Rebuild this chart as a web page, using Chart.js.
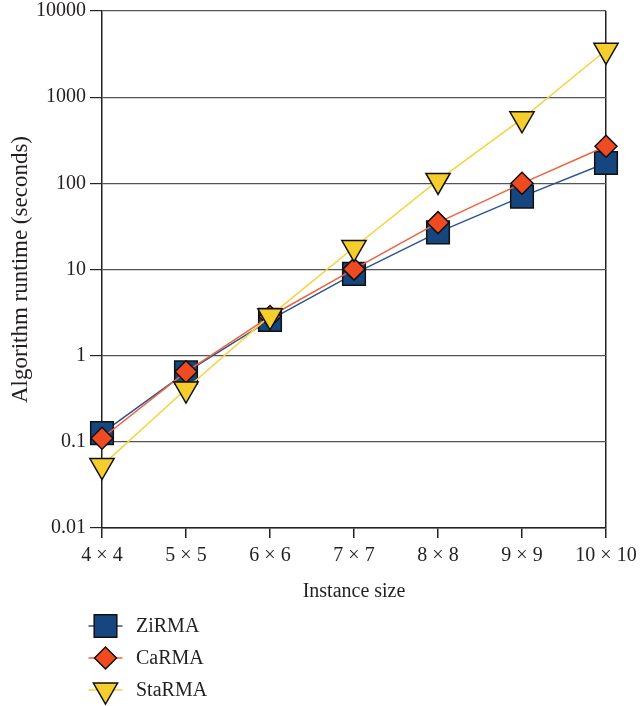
<!DOCTYPE html>
<html>
<head>
<meta charset="utf-8">
<script src="https://cdn.jsdelivr.net/npm/chart.js@4.4.1/dist/chart.umd.min.js"></script>
<style>
  html, body { margin: 0; padding: 0; background: #fff; }
  #wrap { width: 643px; height: 706px; position: relative; }
</style>
</head>
<body>
<div id="wrap"><canvas id="runtimeChart"></canvas></div>
<script>
/* ---------- data ---------- */
const sizes  = ['4 × 4', '5 × 5', '6 × 6', '7 × 7', '8 × 8', '9 × 9', '10 × 10'];
const zirma  = [0.126, 0.64, 2.6, 8.9, 27, 70, 172];
const carma  = [0.11, 0.65, 2.85, 10.1, 35, 100, 269];
const starma = [0.053, 0.41, 2.9, 18, 108, 560, 3500];
const yTicks = [0.01, 0.1, 1, 10, 100, 1000, 10000];
const yTickLabels = ['0.01', '0.1', '1', '10', '100', '1000', '10000'];

const SERIF = '"Liberation Serif", "DejaVu Serif", serif';
const INK   = '#231f20';

Chart.defaults.font.family = SERIF;
Chart.defaults.font.size = 20;
Chart.defaults.color = INK;

/* ---------- legend drawn under the axis title ---------- */
const legendBelow = {
  id: 'legendBelow',
  afterDraw(chart) {
    const ctx  = chart.ctx;
    const left = chart.chartArea.left;
    chart.data.datasets.forEach((ds, i) => {
      const y  = 626 + i * 32;
      const cx = left + 3.5;
      ctx.save();
      ctx.strokeStyle = ds.borderColor;
      ctx.lineWidth = ds.borderWidth;
      ctx.beginPath();
      ctx.moveTo(cx - 17, y);
      ctx.lineTo(cx + 17, y);
      ctx.stroke();

      ctx.fillStyle = ds.pointBackgroundColor;
      ctx.strokeStyle = ds.pointBorderColor;
      ctx.lineWidth = ds.pointBorderWidth;
      Chart.helpers.drawPoint(ctx, {
        pointStyle: ds.pointStyle,
        radius: ds.pointRadius,
        rotation: ds.pointRotation || 0,
        borderWidth: ds.pointBorderWidth,
      }, cx, y);

      ctx.fillStyle = INK;
      ctx.font = '20px ' + SERIF;
      ctx.textBaseline = 'middle';
      ctx.textAlign = 'left';
      ctx.fillText(ds.label, left + 34, y + 1);
      ctx.restore();
    });
  }
};

function series(label, data, line, fill, style, radius, rot, order) {
  return {
    label, data, order,
    borderColor: line,
    borderWidth: 1.5,
    pointStyle: style,
    pointRadius: radius,
    pointHoverRadius: radius,
    pointRotation: rot,
    pointBackgroundColor: fill,
    pointBorderColor: '#111',
    pointBorderWidth: 1.5,
    tension: 0,
    fill: false,
    clip: false,
  };
}

new Chart(document.getElementById('runtimeChart'), {
  type: 'line',
  data: {
    labels: sizes,
    datasets: [
      series('ZiRMA',  zirma,  '#2a5590', '#16467f', 'rect',     16, 0,   3),
      series('CaRMA',  carma,  '#f2603c', '#f04a23', 'rectRot',  11, 0,   2),
      series('StaRMA', starma, '#f7d23c', '#f5cd2c', 'triangle', 14, 180, 1),
    ],
  },
  options: {
    responsive: true,
    maintainAspectRatio: false,
    animation: false,
    layout: { autoPadding: false, padding: { left: 9, right: 37, top: 0, bottom: 102 } },
    plugins: {
      legend: { display: false },
      tooltip: { enabled: false },
    },
    scales: {
      x: {
        type: 'category',
        offset: false,
        grid: {
          color: c => (c.index === sizes.length - 1 ? '#222' : 'rgba(0,0,0,0)'),
          tickColor: '#222',
          tickLength: 10,
          lineWidth: 1.5,
        },
        border: { color: '#222', width: 1.5 },
        ticks: { color: INK, padding: 6, maxRotation: 0, autoSkip: false },
        title: { display: true, text: 'Instance size', color: INK, padding: { top: 6, bottom: 0 } },
      },
      y: {
        type: 'logarithmic',
        min: 0.01,
        max: 10000,
        afterBuildTicks: scale => { scale.ticks = yTicks.map(v => ({ value: v })); },
        afterFit: scale => { scale.paddingTop = 11; scale.paddingBottom = 11; },
        grid: { color: '#555', tickColor: '#222', tickLength: 12, lineWidth: 1.2 },
        border: { color: '#222', width: 1.5 },
        ticks: {
          color: INK,
          padding: 4,
          callback: v => yTickLabels[yTicks.indexOf(v)] ?? '',
        },
        title: {
          display: true,
          text: 'Algorithm runtime (seconds)',
          color: INK,
          font: { size: 23, lineHeight: 1 },
          padding: { top: 0, bottom: 0 },
        },
      },
    },
  },
  plugins: [legendBelow],
});
</script>
</body>
</html>
